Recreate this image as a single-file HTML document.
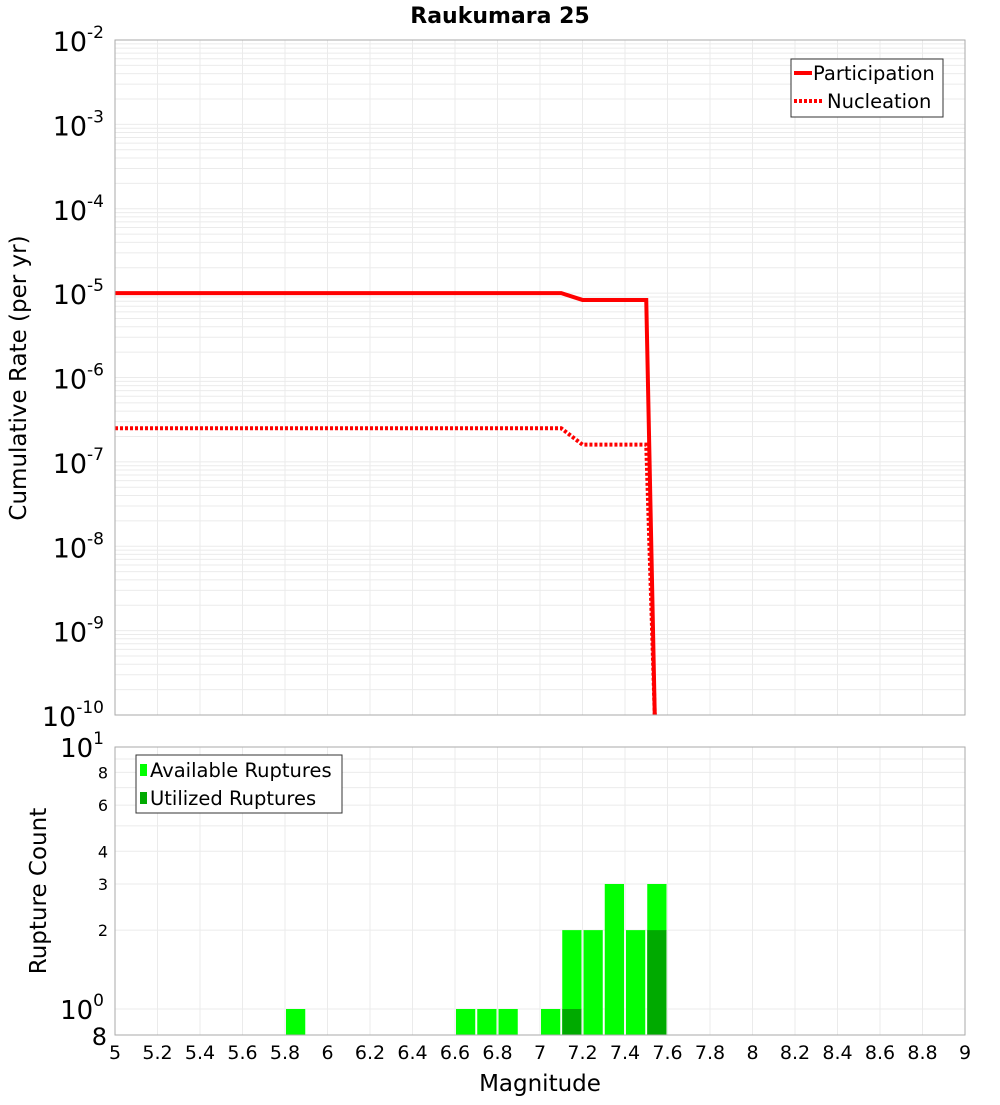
<!DOCTYPE html>
<html><head><meta charset="utf-8"><style>
body{margin:0;background:#fff;font-family:"Liberation Sans","DejaVu Sans",sans-serif}
svg text{font-family:"DejaVu Sans","Liberation Sans",sans-serif}
</style></head><body>
<svg id="c" width="1000" height="1100" xmlns="http://www.w3.org/2000/svg"></svg>
<script>
const partMag=[5.0,7.1,7.2,7.5,7.54];
const partRate=[1e-5,1e-5,8.3e-6,8.3e-6,1e-10];
const nuclMag=[5.0,7.1,7.2,7.5,7.54];
const nuclRate=[2.5e-7,2.5e-7,1.6e-7,1.6e-7,1e-10];
const binMag=[5.85,6.65,6.75,6.85,7.05,7.15,7.25,7.35,7.45,7.55];
const availCount=[1,1,1,1,1,2,2,3,2,3];
const usedCount=[0,0,0,0,0,1,0,0,0,2];
const xTicks=[5,5.2,5.4,5.6,5.8,6,6.2,6.4,6.6,6.8,7,7.2,7.4,7.6,7.8,8,8.2,8.4,8.6,8.8,9];
const topExps=[-2,-3,-4,-5,-6,-7,-8,-9,-10];
const botTicks=[8,6,4,3,2];

const NS="http://www.w3.org/2000/svg",svg=document.getElementById('c');
function el(t,a,p){const e=document.createElementNS(NS,t);for(const k in a)e.setAttribute(k,a[k]);(p||svg).appendChild(e);return e;}
const X0=115,X1=965,T0=40,T1=715,B0=747,B1=1035;
const xs=m=>X0+(m-5)/4*(X1-X0);
const yt=v=>T0+(-2-Math.log10(v))*(T1-T0)/8;
const yb=v=>1009-Math.log10(v)*262;

const g=el('g',{});


xTicks.forEach(t=>{el('line',{x1:xs(t),x2:xs(t),y1:T0,y2:T1,stroke:'#ebebeb'},g);el('line',{x1:xs(t),x2:xs(t),y1:B0,y2:B1,stroke:'#ebebeb'},g);});
for(let e=-10;e<-2;e++)for(let k=1;k<10;k++){const y=yt(k*Math.pow(10,e));el('line',{x1:X0,x2:X1,y1:y,y2:y,stroke:'#ebebeb'},g);}
for(let v=1;v<=10;v++){const y=yb(v);el('line',{x1:X0,x2:X1,y1:y,y2:y,stroke:'#ebebeb'},g);}

const ti=el('text',{x:500,y:23,'text-anchor':'middle','font-size':22,'font-weight':'bold'});ti.textContent='Raukumara 25';


function path(ms,rs){return ms.map((m,i)=>(i?'L':'M')+xs(m)+','+yt(rs[i])).join(' ');}
const pl=el('path',{d:path(partMag,partRate),fill:'none',stroke:'#ff0000','stroke-width':4});

const nl=el('path',{d:path(nuclMag,nuclRate),fill:'none',stroke:'#ff0000','stroke-width':4,'stroke-dasharray':'3,2'});


const bw=(X1-X0)/40;
binMag.forEach((m,i)=>{
  const x=xs(m)-bw/2+1,w=bw-2;
  const y=yb(availCount[i]);
  const r=el('rect',{x:x,y:y,width:w,height:B1-y,fill:'#00ff00'});
  
  if(usedCount[i]>0){const y2=yb(usedCount[i]);const u=el('rect',{x:x,y:y2,width:w,height:B1-y2,fill:'#00aa00'});
    }
});

el('rect',{x:X0,y:T0,width:X1-X0,height:T1-T0,fill:'none',stroke:'#aaa'});
el('rect',{x:X0,y:B0,width:X1-X0,height:B1-B0,fill:'none',stroke:'#aaa'});

topExps.forEach(e=>{const y=yt(Math.pow(10,e));
  const t=el('text',{x:104,y:y+11,'text-anchor':'end','font-size':27});
  t.innerHTML='10<tspan dy="-13" font-size="17">'+e+'</tspan>';
  });
[[10,'1'],[1,'0']].forEach(([v,e])=>{const t=el('text',{x:104,y:yb(v)+10,'text-anchor':'end','font-size':26});
  t.innerHTML='10<tspan dy="-13" font-size="17">'+e+'</tspan>';
  });
botTicks.forEach(v=>{const t=el('text',{x:108,y:yb(v)+6,'text-anchor':'end','font-size':16});t.textContent=v;
  });
const t8=el('text',{x:107,y:1045,'text-anchor':'end','font-size':24});t8.textContent='8';


xTicks.forEach(v=>{const t=el('text',{x:xs(v),y:1059,'text-anchor':'middle','font-size':19});t.textContent=String(v);
  });
const xt=el('text',{x:540,y:1091,'text-anchor':'middle','font-size':23});xt.textContent='Magnitude';

const yt1=el('text',{x:0,y:0,'text-anchor':'middle','font-size':23,transform:'translate(26,378) rotate(-90)'});yt1.textContent='Cumulative Rate (per yr)';

const yt2=el('text',{x:0,y:0,'text-anchor':'middle','font-size':23,transform:'translate(46,891) rotate(-90)'});yt2.textContent='Rupture Count';


const lg=el('g',{});
el('rect',{x:791,y:59,width:152,height:58,fill:'#fff',stroke:'#333'},lg);
el('line',{x1:794,x2:812,y1:73,y2:73,stroke:'#f00','stroke-width':4},lg);
el('line',{x1:794,x2:822,y1:101,y2:101,stroke:'#f00','stroke-width':4,'stroke-dasharray':'3,2'},lg);
let a=el('text',{x:813,y:80,'font-size':19.5},lg);a.textContent='Participation';
a=el('text',{x:827,y:108,'font-size':19.5},lg);a.textContent='Nucleation';
const lg2=el('g',{});
el('rect',{x:136,y:755,width:206,height:58,fill:'#fff',stroke:'#333'},lg2);
el('rect',{x:140,y:764,width:7,height:12,fill:'#00ff00'},lg2);
el('rect',{x:140,y:792,width:7,height:12,fill:'#00aa00'},lg2);
a=el('text',{x:150,y:777,'font-size':19.5},lg2);a.textContent='Available Ruptures';
a=el('text',{x:150,y:805,'font-size':19.5},lg2);a.textContent='Utilized Ruptures';
</script>
</body></html>
